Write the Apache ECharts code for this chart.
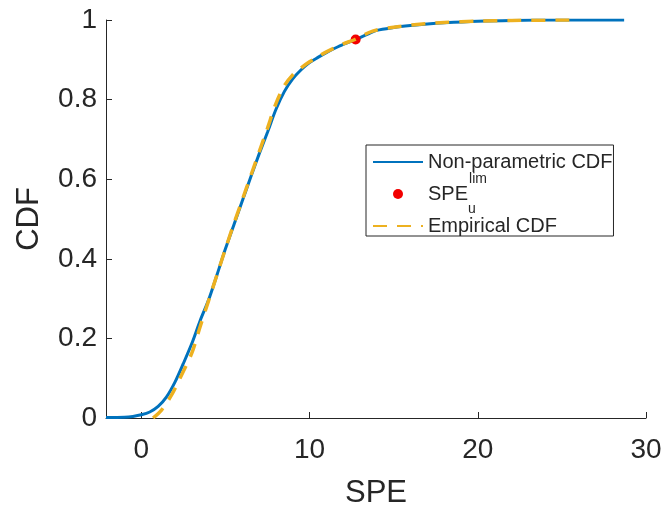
<!DOCTYPE html>
<html>
<head>
<meta charset="utf-8">
<script src="https://cdn.jsdelivr.net/npm/echarts@6/dist/echarts.min.js"></script>
<style>html,body{margin:0;padding:0;background:#fff;}#c{width:663px;height:507px;}</style>
</head>
<body>
<div id="c"></div>
<script>
// Non-parametric (kernel) CDF: [SPE, CDF]
var kdeX = [-2.1,-1,-0.5,0,0.5,1,1.5,2,2.5,3,3.5,4,4.5,5,5.5,6,6.5,7,7.5,8,8.5,9,9.5,10,10.5,11,11.5,12,12.74,13.5,14,15,16,17,18,20,22,25,28.7];
var kdeY = [0.001,0.002,0.004,0.008,0.015,0.029,0.053,0.090,0.137,0.187,0.245,0.297,0.360,0.425,0.485,0.545,0.605,0.663,0.718,0.775,0.820,0.852,0.875,0.893,0.906,0.918,0.929,0.939,0.951,0.965,0.974,0.981,0.986,0.990,0.993,0.997,0.999,1.0,1.0];
// Empirical CDF
var ecdfX = [0.7,1.2,1.8,2.3,3,3.5,4,4.5,5,5.5,6,6.5,7,7.5,8,8.5,9,9.5,10,10.5,11,12,12.7,13.5,14,15,16,18,20,22,25.7];
var ecdfY = [0,0.02,0.058,0.10,0.163,0.23,0.295,0.36,0.425,0.488,0.548,0.608,0.668,0.728,0.790,0.835,0.862,0.880,0.895,0.908,0.92,0.94,0.951,0.968,0.975,0.982,0.987,0.994,0.997,0.999,1.0];
// Upper limit point
var limX = [12.74];
var limY = [0.951];
var xTicks = [0,10,20,30];
var seriesNames = ['Non-parametric CDF','SPE_lim','Empirical CDF'];

function zip(a,b){return a.map(function(v,i){return [v,b[i]];});}

var font = 'Liberation Sans, Arial, Helvetica, sans-serif';
var ink = '#262626';
var chart = echarts.init(document.getElementById('c'), null, {renderer:'canvas'});
chart.setOption({
  animation:false,
  backgroundColor:'#fff',
  grid:{left:106,right:17,top:20,bottom:89,containLabel:false,outerBoundsMode:'none'},
  xAxis:{
    type:'value',min:-2.1,max:30,
    name:'SPE',nameLocation:'middle',nameGap:60,
    nameTextStyle:{fontFamily:font,fontSize:31,color:ink},
    axisLine:{show:true,onZero:false,lineStyle:{color:ink,width:1}},
    axisTick:{show:true,inside:true,length:6,customValues:xTicks,lineStyle:{color:ink}},
    axisLabel:{customValues:xTicks,margin:18,fontFamily:font,fontSize:28,color:ink},
    splitLine:{show:false}
  },
  yAxis:{
    type:'value',min:0,max:1,interval:0.2,
    name:'CDF',nameLocation:'middle',nameGap:61,
    nameTextStyle:{fontFamily:font,fontSize:31,color:ink},
    axisLine:{show:true,onZero:false,lineStyle:{color:ink,width:1}},
    axisTick:{show:true,inside:true,length:6,lineStyle:{color:ink}},
    axisLabel:{margin:9,fontFamily:font,fontSize:28,color:ink},
    splitLine:{show:false}
  },
  legend:{
    orient:'vertical',left:366,top:145,
    padding:[7,1,0,6],itemGap:0,itemWidth:50,itemHeight:10,
    backgroundColor:'#fff',borderColor:ink,borderWidth:1,
    data:[
      {name:seriesNames[0],itemStyle:{opacity:0}},
      {name:seriesNames[1],icon:'circle',itemStyle:{opacity:1}},
      {name:seriesNames[2],itemStyle:{opacity:0}}
    ],
    formatter:function(n){
      if(n==='SPE_lim') return '{a|SPE}{sub|u}{sup|lim}';
      return '{n|'+n+'}';
    },
    textStyle:{
      fontFamily:font,fontSize:20,color:ink,
      rich:{
        n:{fontFamily:font,fontSize:20,color:ink,lineHeight:22},
        a:{fontFamily:font,fontSize:20,color:ink,lineHeight:44},
        sup:{fontFamily:font,fontSize:14,color:ink,lineHeight:16,verticalAlign:'top'},
        sub:{fontFamily:font,fontSize:14,color:ink,lineHeight:6,verticalAlign:'bottom',width:1}
      }
    }
  },
  series:[
    {name:seriesNames[0],type:'line',data:zip(kdeX,kdeY),smooth:0.3,symbol:'none',
     lineStyle:{color:'#0072BD',width:3},itemStyle:{color:'#0072BD'},z:2},
    {name:seriesNames[1],type:'scatter',data:zip(limX,limY),symbol:'circle',symbolSize:10,
     itemStyle:{color:'#f20000',opacity:1},z:3},
    {name:seriesNames[2],type:'line',data:zip(ecdfX,ecdfY),smooth:0.3,symbol:'none',
     lineStyle:{color:'#EDB120',width:3.5,type:[14,10]},itemStyle:{color:'#EDB120'},z:4}
  ]
});
</script>
</body>
</html>
